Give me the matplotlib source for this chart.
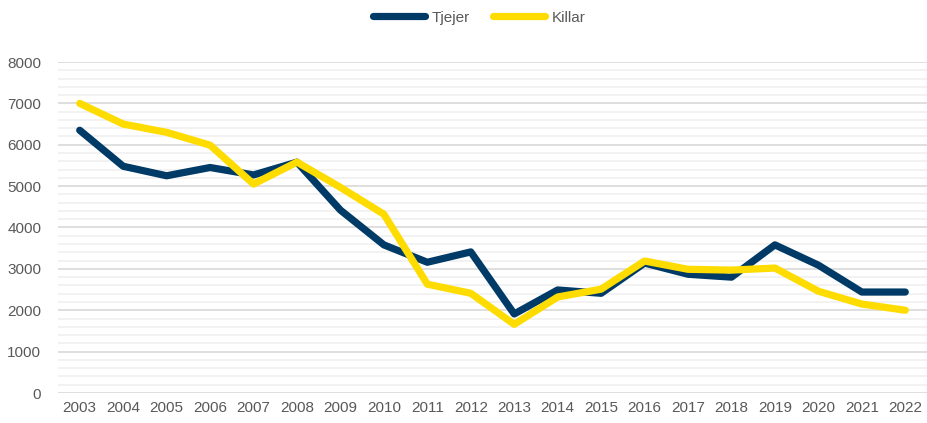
"""
Line chart: Tjejer vs Killar, 2003-2022.
"""
import matplotlib.pyplot as plt
from matplotlib.ticker import MultipleLocator

plt.rcParams['font.family'] = ['Liberation Sans', 'DejaVu Sans']

years = [str(y) for y in range(2003, 2023)]
tjejer = [6350, 5480, 5250, 5450, 5270, 5580, 4420, 3580, 3160, 3410,
          1910, 2490, 2410, 3140, 2870, 2800, 3580, 3090, 2440, 2440]
killar = [7000, 6500, 6300, 5990, 5050, 5580, 4970, 4320, 2630, 2410,
          1660, 2320, 2510, 3190, 2990, 2970, 3020, 2460, 2150, 2000]

text_color = '#595959'

fig = plt.figure(figsize=(9.27, 4.23), dpi=100)
ax = fig.add_axes([58 / 927, 1 - 393 / 423, (927 - 58) / 927, (393 - 62) / 423])

x = range(len(years))
ax.plot(x, tjejer, color='#003A66', lw=5.2, solid_capstyle='round',
        solid_joinstyle='round', label='Tjejer')
ax.plot(x, killar, color='#FFDC00', lw=5.2, solid_capstyle='round',
        solid_joinstyle='round', label='Killar')

ax.set_xlim(-0.5, len(years) - 0.5)
ax.set_ylim(0, 8000)
ax.set_xticks(list(x))
ax.set_xticklabels(years)
ax.yaxis.set_major_locator(MultipleLocator(1000))
ax.yaxis.set_minor_locator(MultipleLocator(200))
ax.grid(axis='y', which='minor', color='#F0F0F0', lw=1.2)
ax.grid(axis='y', which='major', color='#D9D9D9', lw=1.2)
ax.set_axisbelow(True)

for s in ax.spines.values():
    s.set_visible(False)
ax.tick_params(axis='both', which='both', length=0, labelsize=11,
               labelcolor=text_color)
ax.tick_params(axis='x', pad=6)
ax.tick_params(axis='y', pad=12)

fig.legend(loc='upper center', bbox_to_anchor=(479 / 927, 1.007), ncol=2,
           frameon=False, fontsize=11, labelcolor=text_color,
           handlelength=3.4, handletextpad=0.45, columnspacing=1.5)

plt.savefig('out.png', dpi=100)
plt.close()
